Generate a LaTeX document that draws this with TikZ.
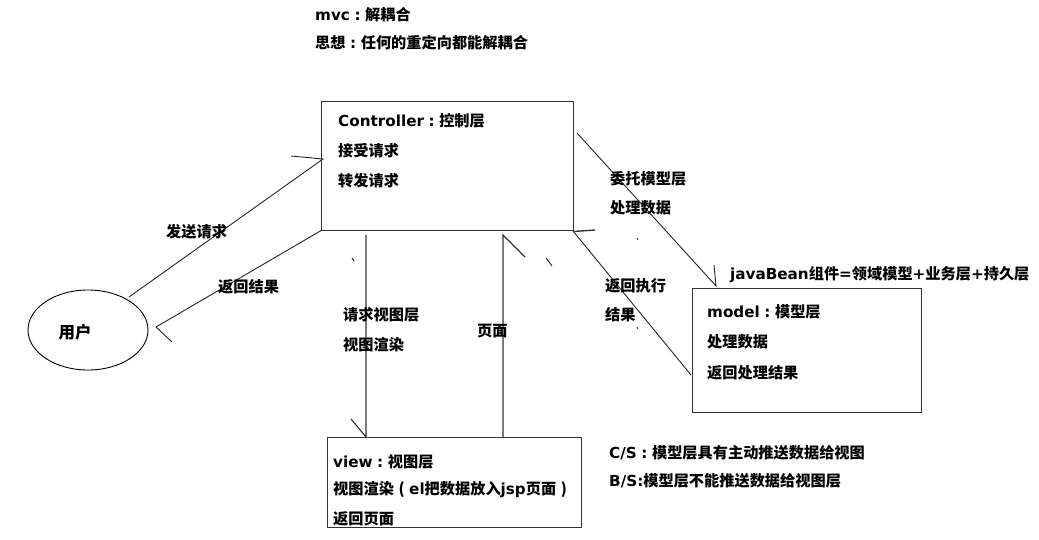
\documentclass[tikz,border=0pt]{standalone}
\usepackage{fontspec}
\setmainfont{Noto Sans CJK SC}
\newfontfamily\latf{DejaVu Sans}
\newcommand{\lat}[1]{{\latf\bfseries #1}}
\newcommand{\fcol}{\makebox[1em][c]{\latf\bfseries :}}
\newcommand{\fopen}{\makebox[1em][c]{(}}
\newcommand{\fclose}{\makebox[1em][c]{)}}
\usetikzlibrary{shapes.geometric}
\tikzset{
  txt/.style={anchor=west, inner sep=0pt, font=\bfseries\fontsize{15.2}{17}\selectfont, text=black},
  box/.style={draw=black!80, line width=1.4pt, anchor=north west, inner sep=0pt},
  con/.style={draw=black!85, line width=0.9pt},
  speck/.style={draw=black!80, line width=1pt}
}
\begin{document}
\begin{tikzpicture}[x=1pt,y=-1pt]
\useasboundingbox (0,0) rectangle (1039,539);
% header
\node[txt] (t1) at (315,15) {\lat{mvc}\fcol 解耦合};
\node[txt] (t2) at (315,43) {思想\fcol 任何的重定向都能解耦合};
% controller
\node[box, minimum width=252pt, minimum height=129pt] (ctrl) at (321,101) {};
\coordinate (ctrlbx) at (595,230);
\draw[box] (ctrl.south east) -- (ctrlbx);
\node[txt] (c1) at (338,121) {\lat{Controller}\fcol 控制层};
\node[txt] (c2) at (338,151) {接受请求};
\node[txt] (c3) at (338,181) {转发请求};
% user
\node[draw=black, line width=0.9pt, ellipse, minimum width=120pt, minimum height=80pt] (user) at (88,330) {};
\node[txt, anchor=center, font=\bfseries\fontsize{16.5}{18}\selectfont] (u1) at (75,332) {用户};
% send request
\coordinate (s1) at (129,297);
\coordinate (s2) at (323,159);
\coordinate (s3) at (291,156);
\draw[con] (s1) -- (s2) -- (s3);
\node[txt] (l1) at (166,232) {发送请求};
% return result
\coordinate (r1) at (322,230);
\coordinate (r2) at (156,327);
\coordinate (r3) at (172,342);
\draw[con] (r1) -- (r2) -- (r3);
\node[txt] (l2) at (218,287) {返回结果};
% view request
\coordinate (v1) at (366,235);
\coordinate (v2) at (366,437);
\coordinate (v3) at (351,419);
\draw[box, line width=1.1pt] (v1) -- (v2) -- (v3);
\node[txt] (l3) at (343,315) {请求视图层};
\node[txt] (l4) at (343,345) {视图渲染};
% page
\coordinate (p1) at (503,437);
\coordinate (p2) at (503,235);
\coordinate (p3) at (525,257);
\draw[box, line width=1.1pt] (p1) -- (p2) -- (p3);
\node[txt] (l5) at (477,331) {页面};
% delegate to model
\coordinate (m1) at (577,133);
\coordinate (m2) at (716,286);
\coordinate (m3) at (714,265);
\draw[con] (m1) -- (m2) -- (m3);
\node[txt] (l6) at (610,179) {委托模型层};
\node[txt] (l7) at (610,208) {处理数据};
% return execution result
\coordinate (e1) at (573,231);
\coordinate (e2) at (691,375);
\draw[con] (e1) -- (e2);
\node[txt] (l8) at (605,286) {返回执行};
\node[txt] (l9) at (605,315) {结果};
% model
\node[box, minimum width=229pt, minimum height=124pt] (model) at (692,288) {};
\node[txt] (j1) at (730,275) {\lat{javaBean}组件\lat{=}领域模型\lat{+}业务层\lat{+}持久层};
\node[txt] (md1) at (707,312) {\lat{model}\fcol 模型层};
\node[txt] (md2) at (707,342) {处理数据};
\node[txt] (md3) at (707,373) {返回处理结果};
% view
\node[box, minimum width=254pt, minimum height=90pt] (view) at (327,437) {};
\node[txt] (w1) at (333,462) {\lat{view}\fcol 视图层};
\node[txt] (w2) at (333,490) {视图渲染\fopen\lat{el}把数据放入\lat{jsp}页面\fclose};
\node[txt] (w3) at (333,519) {返回页面};
% notes
\node[txt] (n1) at (609,453) {\lat{C/S}\fcol 模型层具有主动推送数据给视图};
\node[txt] (n2) at (609,481) {\lat{B/S:}模型层不能推送数据给视图层};
% stray marks
\draw[speck] (352,258) -- (354,261);
\draw[speck] (546,258) -- (552,266);
\draw[speck] (637,238) -- (638,240);
\draw[speck] (637,327) -- (638,329);
\end{tikzpicture}
\end{document}
